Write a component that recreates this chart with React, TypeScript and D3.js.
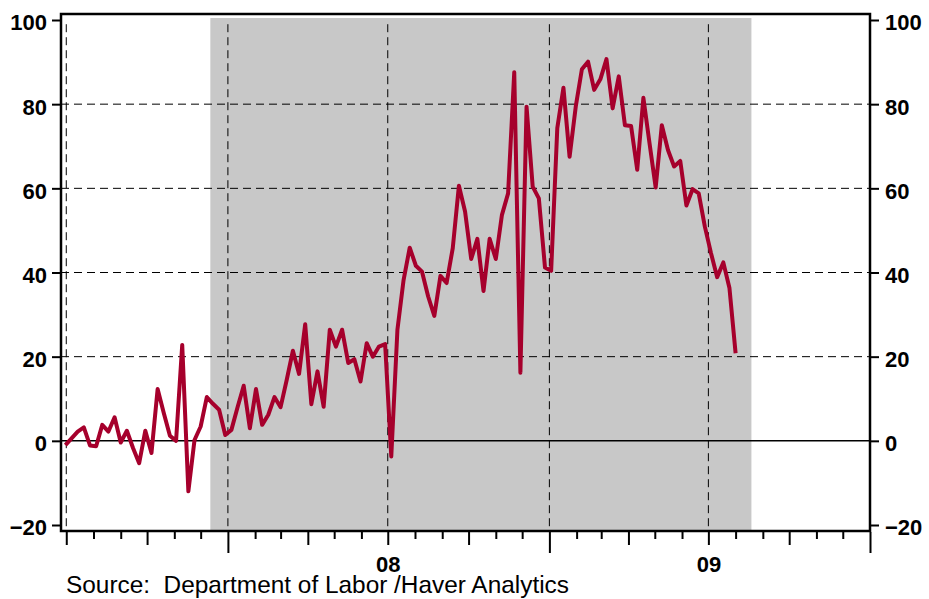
import React, { useEffect, useRef } from 'react';
import * as d3 from 'd3';

// weekly series, first week ending 2007-06-30
const firstWeek = new Date(2007, 5, 30);
const claimsChange = [
  -1, 0.6, 2.2, 3.2, -1.1, -1.3, 3.8, 2.2, 5.6, -0.4,
  2.4, -1.7, -5.3, 2.4, -2.9, 12.3, 6.6, 1.2, 0, 22.8,
  -12, 0.2, 3.4, 10.4, 8.8, 7.4, 1.4, 2.6, 8, 13.1,
  3, 12.3, 3.8, 6.2, 10.4, 8, 14.5, 21.4, 15.9, 27.7,
  8.7, 16.5, 8.1, 26.4, 22.4, 26.4, 18.5, 19.4, 14.1, 23.2,
  20, 22.4, 23, -3.7, 26.4, 38.2, 45.9, 41.6, 40.2, 34.3,
  29.7, 39.2, 37.5, 45.8, 60.6, 54.5, 43.2, 48, 35.6, 48,
  43.2, 53.7, 58.8, 87.6, 16.2, 79.4, 60.4, 57.6, 41.2, 40.4,
  74.3, 83.9, 67.5, 79.4, 88.3, 90.1, 83.4, 85.9, 90.7, 79,
  86.6, 75, 74.8, 64.4, 81.5, 70.7, 60.2, 75, 69.1, 65.2,
  66.5, 55.9, 59.8, 58.8, 50.9, 44.6, 38.9, 42.4, 36.3, 20.8
];

const recession = [new Date(2007, 11, 12), new Date(2009, 7, 19)];
const yTicks = [-20, 0, 20, 40, 60, 80, 100];
const yGrid = [20, 40, 60, 80];
const xGrid = [new Date(2007, 6, 1), new Date(2008, 0, 1), new Date(2008, 6, 1), new Date(2009, 0, 1), new Date(2009, 6, 1)];
const yearLabelDates = [new Date(2008, 6, 1), new Date(2009, 6, 1)];
const yearLabels = ['08', '09'];
const sourceText = 'Source:  Department of Labor /Haver Analytics';

const W = 929;
const H = 599;
const LINE = '#a6002c';
const FONT = '"Liberation Sans", Arial, sans-serif';

function ClaimsChart() {
  const svgRef = useRef(null);

  useEffect(() => {
    const svg = d3.select(svgRef.current);
    svg.selectAll('*').remove();

    const left = 61, right = 870, top = 14, bottom = 531;

    const x = d3.scaleTime()
      .domain([new Date(2007, 5, 25), new Date(2010, 0, 1)])
      .range([left, right]);
    const y = d3.scaleLinear().domain([-20, 100]).range([525, 20]);

    const data = claimsChange.map((v, i) => ({ date: d3.timeWeek.offset(firstWeek, i), value: v }));

    svg.append('rect').attr('width', W).attr('height', H).attr('fill', '#fff');

    // recession shading
    svg.append('rect')
      .attr('x', x(recession[0]))
      .attr('y', top + 4)
      .attr('width', x(recession[1]) - x(recession[0]))
      .attr('height', bottom - top - 4)
      .attr('fill', '#c8c8c8');

    // grid
    svg.selectAll('.hgrid').data(yGrid).enter().append('line')
      .attr('x1', left).attr('x2', right)
      .attr('y1', d => y(d)).attr('y2', d => y(d))
      .attr('stroke', '#000').attr('stroke-width', 1).attr('stroke-dasharray', '8,5');
    svg.selectAll('.vgrid').data(xGrid).enter().append('line')
      .attr('x1', d => x(d)).attr('x2', d => x(d))
      .attr('y1', y(99)).attr('y2', bottom)
      .attr('stroke', '#000').attr('stroke-width', 1).attr('stroke-dasharray', '8,5');

    // zero line
    svg.append('line')
      .attr('x1', left).attr('x2', right)
      .attr('y1', y(0)).attr('y2', y(0))
      .attr('stroke', '#000').attr('stroke-width', 1.5);

    // series
    const line = d3.line().x(d => x(d.date)).y(d => y(d.value));
    svg.append('path')
      .datum(data)
      .attr('d', line)
      .attr('fill', 'none')
      .attr('stroke', LINE)
      .attr('stroke-width', 4)
      .attr('stroke-linejoin', 'round');

    // frame
    svg.append('rect')
      .attr('x', left).attr('y', top)
      .attr('width', right - left).attr('height', bottom - top)
      .attr('fill', 'none').attr('stroke', '#000').attr('stroke-width', 2.5);

    const styleAxis = g => {
      g.select('.domain').remove();
      g.selectAll('line').attr('stroke', '#000').attr('stroke-width', 2);
      g.selectAll('text')
        .attr('font-family', FONT)
        .attr('font-size', 22)
        .attr('font-weight', 'bold')
        .attr('fill', '#000');
    };

    svg.append('g')
      .attr('transform', `translate(${left},0)`)
      .call(d3.axisLeft(y).tickValues(yTicks).tickSize(9).tickPadding(5))
      .call(styleAxis)
      .selectAll('text').attr('dy', '0.45em');

    svg.append('g')
      .attr('transform', `translate(${right},0)`)
      .call(d3.axisRight(y).tickValues(yTicks).tickSize(9).tickPadding(6))
      .call(styleAxis)
      .selectAll('text').attr('dy', '0.45em');

    // monthly ticks, longer on quarters and years
    const xAxis = svg.append('g')
      .attr('transform', `translate(0,${bottom})`)
      .call(d3.axisBottom(x).ticks(d3.timeMonth.every(1)).tickSize(8).tickFormat(() => ''))
      .call(styleAxis);
    xAxis.selectAll('.tick line')
      .attr('y1', 1)
      .attr('y2', d => (d.getMonth() === 0 ? 22 : d.getMonth() % 3 === 0 ? 14 : 8));

    svg.append('g')
      .attr('transform', `translate(0,${bottom})`)
      .call(d3.axisBottom(x).tickValues(yearLabelDates).tickSize(0).tickPadding(25)
        .tickFormat((d, i) => yearLabels[i]))
      .call(styleAxis);

    svg.append('text')
      .attr('x', 66)
      .attr('y', 593)
      .attr('font-family', FONT)
      .attr('font-size', 24.4)
      .attr('fill', '#000')
      .style('white-space', 'pre')
      .text(sourceText);
  }, []);

  return <svg ref={svgRef} width={W} height={H} style={{ display: 'block' }} />;
}

export default function App() {
  return (
    <div style={{ position: 'absolute', left: 0, top: 0 }}>
      <ClaimsChart />
    </div>
  );
}
